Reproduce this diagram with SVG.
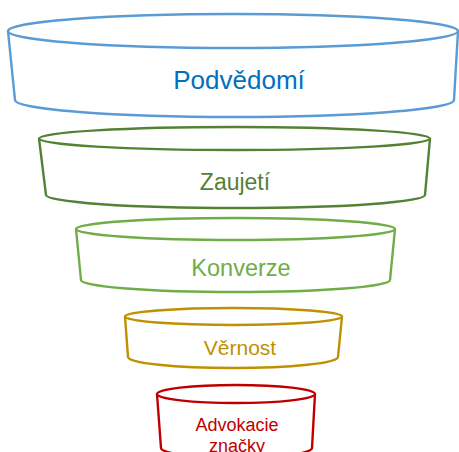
<svg xmlns="http://www.w3.org/2000/svg" width="459" height="452" viewBox="0 0 459 452">
<style>
.s{fill:#fff;stroke-width:2.4;stroke-linejoin:round}
text{font-family:"Liberation Sans",Arial,sans-serif;text-anchor:middle}
</style>
<rect width="459" height="452" fill="#fff"/>
<g id="podvedomi">
<path class="s" stroke="#5B9BD5" d="M8,31 L15,100 A219.5,17 0 0 0 454,100 L458,31"/>
<ellipse class="s" stroke="#5B9BD5" cx="233" cy="31" rx="225" ry="17"/>
<text x="239" y="89" font-size="26" fill="#0070C0">Podvědomí</text>
</g>
<g id="zaujeti">
<path class="s" stroke="#548235" d="M39,138.5 L46,195 A189.5,13 0 0 0 425,195 L430,138.5"/>
<ellipse class="s" stroke="#548235" cx="234.5" cy="138.5" rx="195.5" ry="11.5"/>
<text x="235" y="190" font-size="23" fill="#548235">Zaujetí</text>
</g>
<g id="konverze">
<path class="s" stroke="#70AD47" d="M76,229 L81,280 A154.5,12 0 0 0 390,280 L395,229"/>
<ellipse class="s" stroke="#70AD47" cx="235.5" cy="229" rx="159.5" ry="11"/>
<text x="241" y="276" font-size="23.5" fill="#70AD47">Konverze</text>
</g>
<g id="vernost">
<path class="s" stroke="#BF9000" d="M125,316.5 L128,357 A105,11 0 0 0 338,357 L342,316.5"/>
<ellipse class="s" stroke="#BF9000" cx="233.5" cy="316.5" rx="108.5" ry="8.5"/>
<text x="240" y="355" font-size="21" fill="#BF9000">Věrnost</text>
</g>
<g id="advokacie">
<path class="s" stroke="#C00000" d="M157,394 L161,448 A75.5,10 0 0 0 312,448 L315,394"/>
<ellipse class="s" stroke="#C00000" cx="236" cy="394" rx="79" ry="9"/>
<text x="237" y="431" font-size="18" fill="#C00000">Advokacie</text>
<text x="237" y="452" font-size="18" fill="#C00000">značky</text>
</g>
<g id="connectors"/>
</svg>
